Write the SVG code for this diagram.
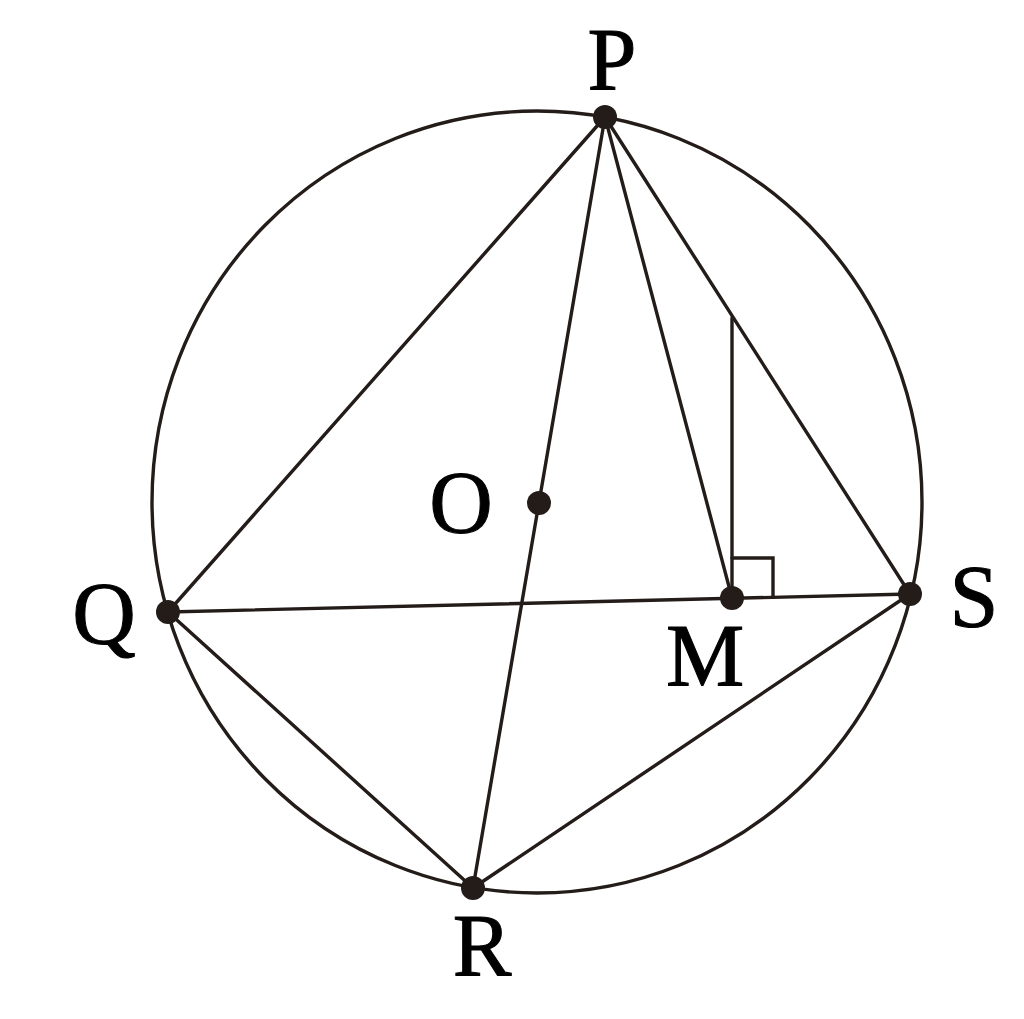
<svg xmlns="http://www.w3.org/2000/svg" width="1024" height="1019" viewBox="0 0 1024 1019">
<style>
.ln{stroke:#231c19;stroke-width:3.4;fill:none;stroke-linecap:round}
.dot{fill:#231c19}
.lbl{font-family:"Liberation Serif","Times New Roman",serif;font-size:88px;fill:#000;stroke:#000;stroke-width:1;text-anchor:middle}
</style>
<rect width="1024" height="1019" fill="#fff"/>
<g id="circle"><ellipse class="ln" cx="537" cy="502" rx="385" ry="391"/></g>
<g id="connectors">
<line class="ln" x1="605" y1="117" x2="168" y2="612"/>
<line class="ln" x1="605" y1="117" x2="473" y2="888"/>
<line class="ln" x1="605" y1="117" x2="732" y2="598"/>
<line class="ln" x1="605" y1="117" x2="910" y2="594"/>
<line class="ln" x1="168" y1="612" x2="910" y2="594"/>
<line class="ln" x1="168" y1="612" x2="473" y2="888"/>
<line class="ln" x1="473" y1="888" x2="910" y2="594"/>
<line class="ln" x1="732" y1="318" x2="732" y2="598"/>
<polyline class="ln" points="732,558 773,558 773,597" stroke-linecap="butt"/>
</g>
<g id="P"><circle class="dot" cx="605" cy="117" r="12"/><text class="lbl" x="612" y="89">P</text></g>
<g id="Q"><circle class="dot" cx="168" cy="612" r="12"/><text class="lbl" x="104" y="643">Q</text></g>
<g id="R"><circle class="dot" cx="473" cy="888" r="12"/><text class="lbl" x="482" y="975">R</text></g>
<g id="S"><circle class="dot" cx="910" cy="594" r="12"/><text class="lbl" x="974" y="626">S</text></g>
<g id="O"><circle class="dot" cx="539" cy="503" r="12"/><text class="lbl" x="461" y="532">O</text></g>
<g id="M"><circle class="dot" cx="732" cy="598" r="12"/><text class="lbl" x="705" y="685">M</text></g>
</svg>
